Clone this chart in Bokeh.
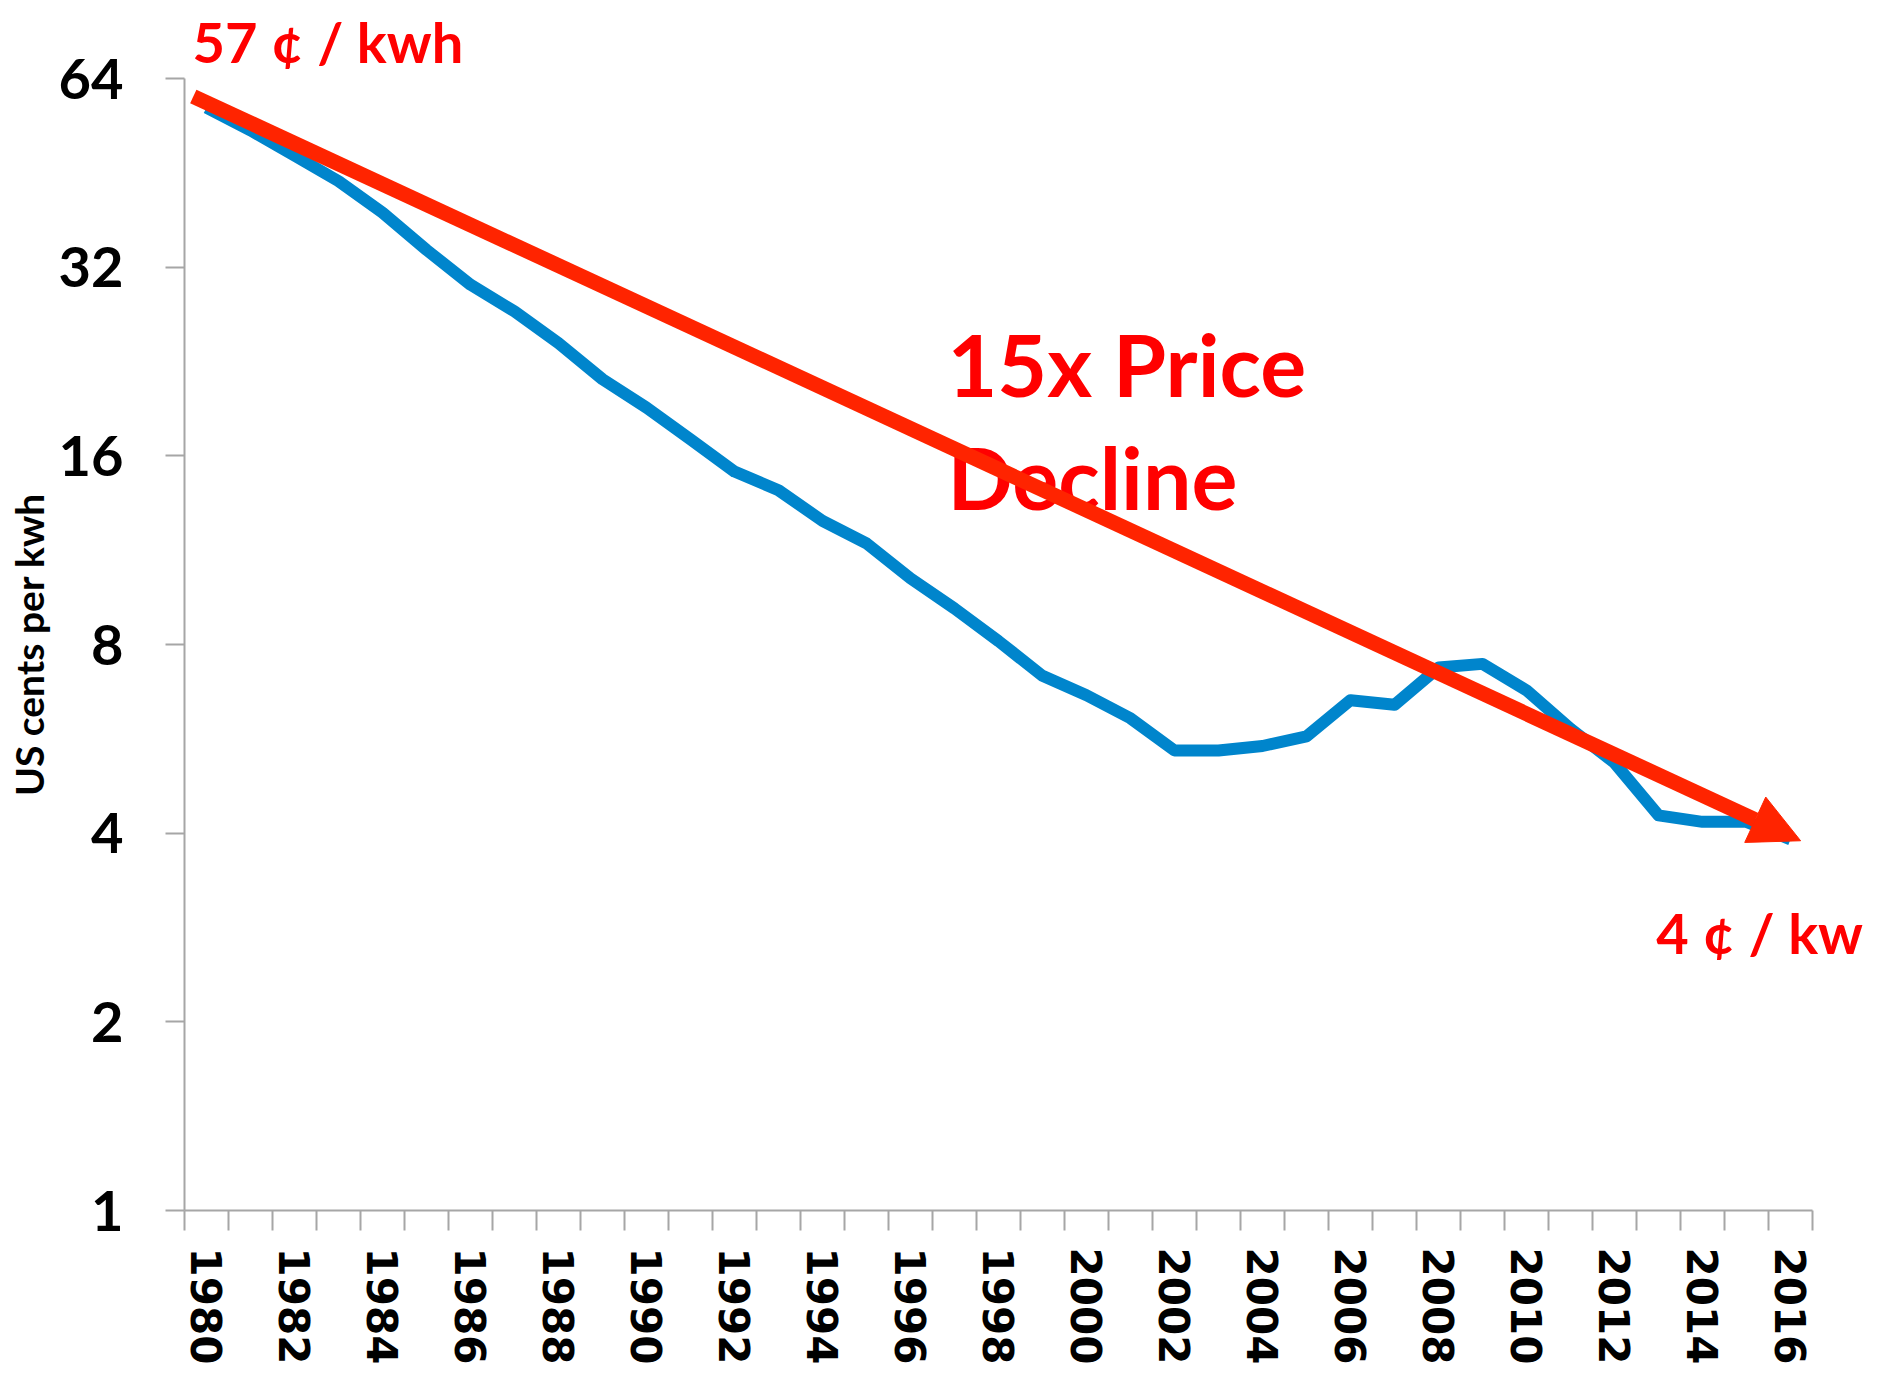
from bokeh.plotting import figure
from bokeh.models import (Range1d, FixedTicker, CustomJSTickFormatter, Arrow,
                          NormalHead, Label, ColumnDataSource)
from bokeh.embed import file_html
from bokeh.resources import INLINE

# ---- data ----
years = list(range(1980, 2017))
price_cents = [57.5, 52.9, 48.2, 43.9, 39.1, 34.1, 30.0, 27.2, 24.2, 21.2,
               19.1, 17.0, 15.1, 14.1, 12.6, 11.6, 10.2, 9.13, 8.1, 7.13,
               6.64, 6.1, 5.42, 5.42, 5.51, 5.71, 6.52, 6.41, 7.35, 7.45,
               6.76, 5.87, 5.18, 4.27, 4.17, 4.17, 3.91]
y_ticks = [1, 2, 4, 8, 16, 32, 64]
x_label_years = list(range(1980, 2017, 2))
x_boundaries = [y - 0.5 for y in range(1980, 2018)]

trend_years = [1979.7, 2016.23]
trend_values = [59.9, 3.89]

start_label = "57 \u00a2 / kwh"
end_label = "4 \u00a2 / kw"
end_label_pos = (2012.95, 2.78)
headline_lines = ["15x Price", "Decline"]
headline_x = 1996.84
headline_y = [22.44, 14.85]

y_title = "US cents per kwh"

# ---- styles / layout ----
BLUE = "#0085CC"
ARROW_RED = "#FF2400"
TEXT_RED = "#FF0000"
AXIS_GRAY = "#A6A6A6"
FONT = "Lato"

W, H = 1872, 1367
LEFT, TOP = 184, 78
AXIS_BOTTOM_PX = 1210     # pixel row of the x axis
AXIS_RIGHT_PX = 1812      # pixel column of the right end of the x axis
BOTTOM = H - AXIS_BOTTOM_PX

frame_w = W - LEFT
axis_w = AXIS_RIGHT_PX - LEFT
x_lo, x_hi = x_boundaries[0], x_boundaries[-1]
x_end = x_lo + (x_hi - x_lo) * frame_w / axis_w

p = figure(width=W, height=H, output_backend="svg", toolbar_location=None,
           y_axis_type="log",
           x_range=Range1d(x_lo, x_end),
           y_range=Range1d(y_ticks[0], y_ticks[-1]),
           min_border_left=LEFT, min_border_right=0,
           min_border_top=TOP, min_border_bottom=BOTTOM)
p.outline_line_color = None
p.xgrid.visible = False
p.ygrid.visible = False
p.background_fill_color = "white"
p.border_fill_color = "white"

# title used as the start-price annotation above the plot
p.title.text = start_label
p.title.align = "left"
p.title.offset = 8
p.title.standoff = 8
p.title.text_font = FONT
p.title.text_font_style = "bold"
p.title.text_font_size = "56px"
p.title.text_color = TEXT_RED

src = ColumnDataSource(dict(year=years, price=price_cents))
p.line("year", "price", source=src, line_color=BLUE, line_width=12,
       line_join="round")

# y axis
ya = p.yaxis[0]
ya.ticker = FixedTicker(ticks=y_ticks, minor_ticks=[])
ya.formatter = CustomJSTickFormatter(code="return String(Math.round(tick));")
ya.axis_line_color = AXIS_GRAY
ya.axis_line_width = 2
ya.major_tick_line_color = AXIS_GRAY
ya.major_tick_line_width = 2
ya.major_tick_in = 0
ya.major_tick_out = 19
ya.minor_tick_line_color = None
ya.major_label_standoff = 42
ya.major_label_text_font = FONT
ya.major_label_text_font_style = "bold"
ya.major_label_text_font_size = "56px"
ya.major_label_text_color = "black"
ya.axis_label = y_title
ya.axis_label_text_font = FONT
ya.axis_label_text_font_style = "bold"
ya.axis_label_text_font_size = "39px"
ya.axis_label_text_color = "black"
ya.axis_label_standoff = 4

# x axis
xa = p.xaxis[0]
xa.bounds = (x_lo, x_hi)
xa.ticker = FixedTicker(ticks=x_label_years, minor_ticks=x_boundaries)
xa.formatter = CustomJSTickFormatter(code="return String(Math.round(tick));")
xa.axis_line_color = AXIS_GRAY
xa.axis_line_width = 2
xa.major_tick_line_color = None
xa.minor_tick_line_color = AXIS_GRAY
xa.minor_tick_line_width = 2
xa.minor_tick_in = 0
xa.minor_tick_out = 20
xa.major_tick_in = 0
xa.major_tick_out = 20
xa.major_label_orientation = "vertical"
xa.major_label_standoff = 17
xa.major_label_text_font = "DejaVu Sans"
xa.major_label_text_font_style = "bold"
xa.major_label_text_font_size = "42px"
xa.major_label_text_color = "black"

# annotations
for txt, yy in zip(headline_lines, headline_y):
    p.add_layout(Label(x=headline_x, y=yy, text=txt, text_font=FONT,
                       text_font_style="bold", text_font_size="86px",
                       text_color=TEXT_RED, text_baseline="alphabetic"))

p.add_layout(Label(x=end_label_pos[0], y=end_label_pos[1], text=end_label,
                   text_font=FONT, text_font_style="bold", text_font_size="56px",
                   text_color=TEXT_RED, text_baseline="alphabetic"))

p.add_layout(Arrow(x_start=trend_years[0], y_start=trend_values[0],
                   x_end=trend_years[1], y_end=trend_values[1],
                   line_color=ARROW_RED, line_width=15, line_cap="butt",
                   end=NormalHead(size=50, fill_color=ARROW_RED,
                                  line_color=ARROW_RED, line_width=1)))

open("out.html", "w").write(file_html(p, INLINE))
